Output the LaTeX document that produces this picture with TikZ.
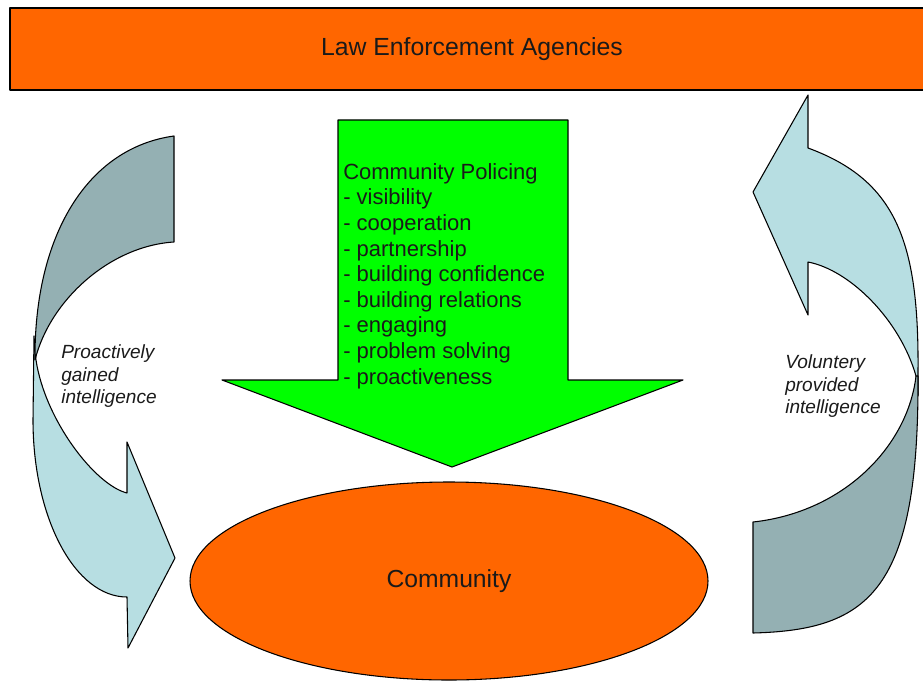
\documentclass[tikz,border=0pt]{standalone}
\usepackage{fontspec}
\setmainfont{Liberation Sans}
\usetikzlibrary{shapes.geometric}
\definecolor{agency}{HTML}{FF6600}
\definecolor{policing}{HTML}{00FF00}
\definecolor{flowfront}{HTML}{B7DEE2}
\definecolor{flowback}{HTML}{94B0B3}
\definecolor{ink}{HTML}{1A1A1A}
\tikzset{
  outline/.style={draw=black, line width=0.8pt, line join=round},
  bandfront/.style={outline, fill=flowfront},
  bandback/.style={outline, fill=flowback},
  sidelabel/.style={font=\itshape\fontsize{14.3}{17.2}\selectfont, text=ink,
    align=left, inner sep=0pt, anchor=north west},
}
\begin{document}
\begin{tikzpicture}[x=0.75pt, y=-0.75pt]
\useasboundingbox (0,0) rectangle (923,681);

% agencies banner
\path[outline, fill=agency] (10,8) rectangle (935,90);
\node[text=ink, font=\fontsize{18.6}{22}\selectfont] (lea) at (472,49) {Law Enforcement Agencies};

% community policing block arrow
\path[outline, fill=policing]
  (338,120) -- (568,120) -- (568,380) -- (683,380) -- (452,467)
  -- (222,380) -- (338,380) -- cycle;
\node[anchor=north west, inner sep=0pt, align=left, text=ink,
  font=\fontsize{16.5}{19.2}\selectfont] (cp) at (343,163)
  {Community Policing\\- visibility\\- cooperation\\- partnership\\
   - building confidence\\- building relations\\- engaging\\
   - problem solving\\- proactiveness};

% community ellipse
\node[ellipse, outline, fill=agency, minimum width=388.5pt, minimum height=148.5pt,
  text=ink, font=\fontsize{18.5}{22}\selectfont] (comm) at (449,581) {Community};

% left curved arrow: front part with the head
\path[bandfront]
  (34,336) -- (33,420) .. controls (33,518) and (75,597) .. (127,597)
  -- (128,648) -- (175,558) -- (127,442) -- (127,493)
  .. controls (95,485) and (45,420) .. (36,360)
  -- cycle;
% left curved arrow: back part with the tail
\path[bandback]
  (174,136) .. controls (87,148) and (34,236) .. (35,360)
  .. controls (50,300) and (110,246) .. (174,242)
  -- cycle;

% right curved arrow: front part with the head
\path[bandfront]
  (918,396) -- (918,370) .. controls (919,240) and (895,180) .. (808,148)
  -- (808,95) -- (753,192) -- (808,315) -- (808,262)
  .. controls (850,270) and (900,320) .. (916,376)
  -- cycle;
% right curved arrow: back part with the tail
\path[bandback]
  (753,522) -- (753,633)
  .. controls (870,630) and (919,590) .. (918,376)
  -- (916,376)
  .. controls (908,445) and (845,512) .. (753,522)
  -- cycle;

% side labels
\node[sidelabel] (proact) at (61,344) {Proactively\\gained\\intelligence};
\node[sidelabel] (volunt) at (785,354) {Voluntery\\provided\\intelligence};
\end{tikzpicture}
\end{document}
